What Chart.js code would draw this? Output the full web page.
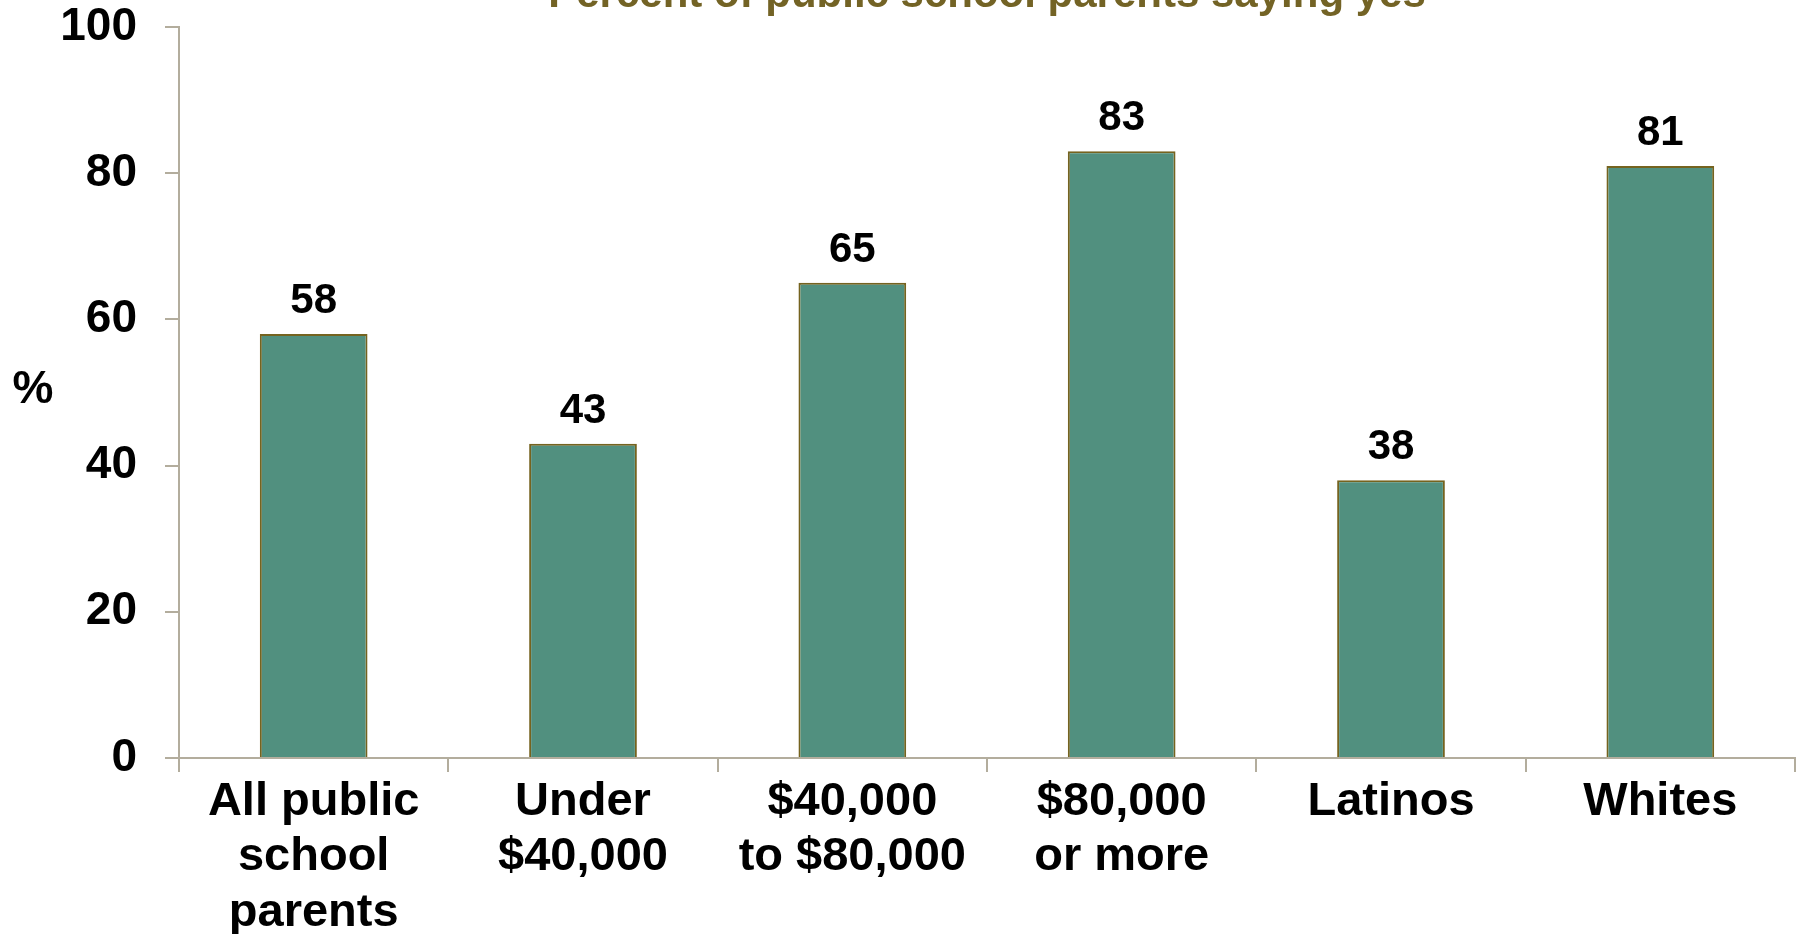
<!DOCTYPE html>
<html>
<head>
<meta charset="utf-8">
<script src="https://cdn.jsdelivr.net/npm/chart.js@4/dist/chart.umd.min.js"></script>
<style>
  html, body { margin: 0; padding: 0; background: #ffffff; overflow: hidden; }
  canvas { display: block; }
</style>
</head>
<body>
<canvas id="c" width="1800" height="934"></canvas>
<script>
const titleText = "Percent of public school parents saying yes";
const yAxisLabel = "%";
const categories = [
  ["All public", "school", "parents"],
  ["Under", "$40,000"],
  ["$40,000", "to $80,000"],
  ["$80,000", "or more"],
  "Latinos",
  "Whites"
];
const values = [58, 43, 65, 83, 38, 81];
const yTickValues = [0, 20, 40, 60, 80, 100];

const FONT = "'Liberation Sans', Arial, sans-serif";
const AXIS_COLOR = "#b3ad9d";
const BAR_COLOR = "#51907f";
const BAR_BORDER = "#75631f";
const TITLE_COLOR = "#736325";

const valueLabels = {
  id: "valueLabels",
  afterDatasetsDraw(chart) {
    const ctx = chart.ctx;
    const meta = chart.getDatasetMeta(0);
    ctx.save();
    ctx.font = "bold 42px " + FONT;
    ctx.fillStyle = "#000000";
    ctx.textAlign = "center";
    ctx.textBaseline = "alphabetic";
    meta.data.forEach((bar, i) => {
      ctx.fillText(String(chart.data.datasets[0].data[i]), bar.x, bar.y - 21);
    });
    ctx.restore();
  }
};

const yUnitLabel = {
  id: "yUnitLabel",
  afterDraw(chart) {
    const ctx = chart.ctx;
    ctx.save();
    ctx.font = "bold 46px " + FONT;
    ctx.fillStyle = "#000000";
    ctx.textAlign = "center";
    ctx.textBaseline = "middle";
    ctx.fillText(yAxisLabel, 33, 390);
    ctx.restore();
  }
};

new Chart(document.getElementById("c"), {
  type: "bar",
  data: {
    labels: categories,
    datasets: [{
      data: values,
      backgroundColor: BAR_COLOR,
      borderColor: BAR_BORDER,
      borderWidth: 2,
      categoryPercentage: 1.0,
      barPercentage: 0.4
    }]
  },
  options: {
    responsive: false,
    animation: false,
    devicePixelRatio: 1,
    layout: { padding: { left: 0, right: 5, top: 0, bottom: 0 } },
    plugins: {
      legend: { display: false },
      tooltip: { enabled: false },
      title: {
        display: true,
        text: titleText,
        fullSize: false,
        color: TITLE_COLOR,
        font: { family: FONT, size: 42, weight: "bold", lineHeight: 1.2 },
        padding: { top: -38, bottom: 6 }
      }
    },
    scales: {
      x: {
        grid: {
          display: true,
          drawOnChartArea: false,
          drawTicks: true,
          tickLength: 14,
          color: AXIS_COLOR,
          lineWidth: 2
        },
        border: { display: true, color: AXIS_COLOR, width: 2 },
        ticks: {
          color: "#000000",
          font: { family: FONT, size: 47, weight: "bold", lineHeight: 1.183 },
          padding: 2,
          maxRotation: 0,
          minRotation: 0,
          autoSkip: false
        },
        afterFit(s) {
          s.height = 176;
          s.paddingLeft = 0;
          s.paddingRight = 0;
        }
      },
      y: {
        min: 0,
        max: 100,
        grid: {
          display: true,
          drawOnChartArea: false,
          drawTicks: true,
          tickLength: 14,
          color: AXIS_COLOR,
          lineWidth: 2
        },
        border: { display: true, color: AXIS_COLOR, width: 2 },
        ticks: {
          color: "#000000",
          font: { family: FONT, size: 46, weight: "bold", lineHeight: 1.2 },
          padding: 28
        },
        afterBuildTicks(s) {
          s.ticks = yTickValues.map(v => ({ value: v }));
        },
        afterFit(s) {
          s.width = 179;
          s.paddingTop = 27;
          s.paddingBottom = 0;
        }
      }
    }
  },
  plugins: [valueLabels, yUnitLabel]
});
</script>
</body>
</html>
